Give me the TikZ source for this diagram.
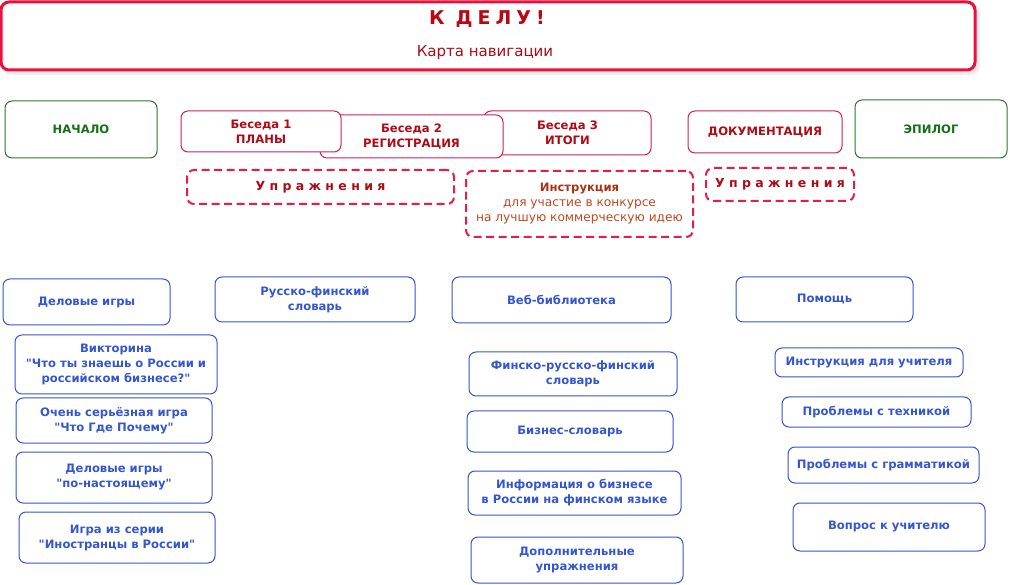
\documentclass[tikz,border=0pt]{standalone}
\usepackage{fontspec}
\setmainfont{DejaVu Sans}
\definecolor{myblue}{RGB}{52,86,206}
\definecolor{boxred}{RGB}{208,32,84}
\definecolor{txtred}{RGB}{172,12,22}
\definecolor{mygreen}{RGB}{40,122,40}
\definecolor{txtgreen}{RGB}{22,112,22}
\definecolor{dashred}{RGB}{232,28,70}
\definecolor{titlered}{RGB}{236,16,60}
\definecolor{ttltxt}{RGB}{184,8,20}
\definecolor{instr}{RGB}{170,52,18}
\definecolor{instrl}{RGB}{192,72,30}
\newcommand\mybox[7]{\node[#6, minimum width={#4-#2}, minimum height={#5-#3}] (#1) at ({(#2+#4)/2},{(#3+#5)/2}) {#7};}
\newcommand\q{\textquotedbl}
\begin{document}
\begin{tikzpicture}[x=1pt,y=-1pt,
  base/.style={rectangle, rounded corners=7pt, align=center, inner sep=1pt, font=\bfseries\fontsize{11.6}{15}\selectfont},
  bluebox/.style={base, draw=myblue, line width=1pt, text=myblue, fill=white},
  redbox/.style={base, draw=boxred, line width=1pt, text=txtred, fill=white},
  greenbox/.style={base, draw=mygreen, line width=1pt, text=txtgreen, fill=white},
  dashbox/.style={base, draw=dashred, line width=2pt, dash pattern=on 8pt off 4.5pt, text=txtred},
  titlebox/.style={rectangle, rounded corners=8pt, draw=titlered, line width=3pt, fill=white},
  shadowbox/.style={rectangle, rounded corners=8pt, fill=black!10, draw=black!6, line width=2pt}
]
\useasboundingbox (0,0) rectangle (1010,585);
% title
\mybox{tshadow}{3}{5}{979}{74}{shadowbox}{}
\mybox{title}{1}{2}{975}{70}{titlebox}{}
\node[text=ttltxt, font=\bfseries\fontsize{19}{20}\selectfont, inner sep=0pt] (ttl) at (487,19.5) {К\hspace{11pt}Д\hspace{5pt}Е\hspace{5pt}Л\hspace{5pt}У\hspace{5pt}!};
\node[text=txtred, font=\fontsize{15}{18}\selectfont, inner sep=0pt] (sub) at (485,53) {Карта навигации};
% top row
\mybox{nach}{5}{101}{157}{158}{greenbox}{НАЧАЛО}
\mybox{epil}{855}{100}{1007}{158}{greenbox}{ЭПИЛОГ}
\mybox{b3}{484}{111}{651}{155}{redbox}{Беседа 3\\ИТОГИ}
\mybox{b2}{320}{115}{503}{158}{redbox}{Беседа 2\\РЕГИСТРАЦИЯ}
\mybox{b1}{181}{111}{341}{152}{redbox}{Беседа 1\\ПЛАНЫ}
\mybox{doc}{688}{111}{842}{153}{redbox}{ДОКУМЕНТАЦИЯ}
% dashed
\mybox{upr1}{187}{170}{454}{204}{dashbox, font=\bfseries\fontsize{12.5}{15}\selectfont}{У п р а ж н е н и я}
\mybox{upr2}{706}{168}{854}{201}{dashbox, font=\bfseries\fontsize{12.5}{15}\selectfont}{У п р а ж н е н и я}
\mybox{instr}{466}{171}{693}{237}{dashbox}{{\color{instr}Инструкция}\\{\mdseries\fontsize{12.2}{15}\selectfont\color{instrl}для участие в конкурсе}\\{\mdseries\fontsize{12.2}{15}\selectfont\color{instrl}на лучшую коммерческую идею}}
% left column
\mybox{dig}{3}{279}{170}{325}{bluebox}{Деловые игры}
\mybox{vik}{15}{335}{217}{394}{bluebox}{Викторина\\\q Что ты знаешь о России и\\российском бизнесе?\q}
\mybox{och}{16}{398}{212}{443}{bluebox}{Очень серьёзная игра\\\q Что Где Почему\q}
\mybox{dig2}{16}{452}{212}{503}{bluebox}{Деловые игры\\\q по-настоящему\q}
\mybox{igra}{19}{512}{215}{563}{bluebox}{Игра из серии\\\q Иностранцы в России\q}
% second column
\mybox{rfs}{215}{277}{415}{322}{bluebox}{Русско-финский\\словарь}
% middle
\mybox{web}{452}{277}{671}{323}{bluebox}{Веб-библиотека}
\mybox{frf}{469}{352}{677}{396}{bluebox}{Финско-русско-финский\\словарь}
\mybox{biz}{467}{411}{673}{452}{bluebox}{Бизнес-словарь}
\mybox{inf}{468}{471}{681}{515}{bluebox}{Информация о бизнесе\\в России на финском языке}
\mybox{dop}{471}{537}{683}{583}{bluebox}{Дополнительные\\упражнения}
% right
\mybox{pom}{736}{277}{913}{322}{bluebox}{Помощь}
\mybox{iu}{775}{348}{963}{377}{bluebox}{Инструкция для учителя}
\mybox{pt}{782}{397}{971}{427}{bluebox}{Проблемы с техникой}
\mybox{pg}{788}{447}{979}{483}{bluebox}{Проблемы с грамматикой}
\mybox{vu}{793}{503}{985}{551}{bluebox}{Вопрос к учителю}
\end{tikzpicture}
\end{document}
